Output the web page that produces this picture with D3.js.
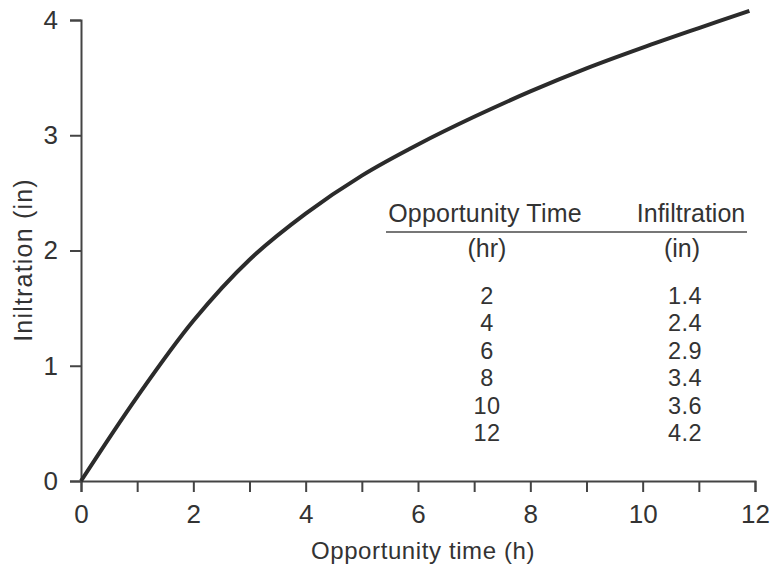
<!DOCTYPE html>
<html><head><meta charset="utf-8">
<script src="https://cdn.jsdelivr.net/npm/d3@7"></script>
<style>body{margin:0;background:#fff}svg{display:block}text{font-family:"Liberation Sans",Arial,sans-serif;fill:#333}</style>
</head><body>
<svg id="c" width="773" height="564"></svg>
<script>
// curve
const hours = [0, 1, 2, 3, 4, 5, 6, 7, 8, 9, 10, 11, 11.9];
const infil = [0, 0.73, 1.39, 1.92, 2.32, 2.65, 2.92, 3.16, 3.38, 3.58, 3.76, 3.93, 4.08];
// table
const tableTimes = ["2", "4", "6", "8", "10", "12"];
const tableInfil = ["1.4", "2.4", "2.9", "3.4", "3.6", "4.2"];
const xTicks = [0,1,2,3,4,5,6,7,8,9,10,11,12];
const yTicks = [0,1,2,3,4];

const svg = d3.select("#c");
const x = d3.scaleLinear().domain([0,12]).range([81,755]);
const y = d3.scaleLinear().domain([0,4]).range([481,20]);

const ax = svg.append("g").attr("transform","translate(0,481)")
  .call(d3.axisBottom(x).tickValues(xTicks).tickSize(11).tickPadding(13)
    .tickFormat(d => d % 2 === 0 ? d : ""));
const ay = svg.append("g").attr("transform","translate(81,0)")
  .call(d3.axisLeft(y).tickValues(yTicks).tickSize(11).tickPadding(12).tickFormat(d3.format("d")));
[ax, ay].forEach(g => {
  g.selectAll("path,line").attr("stroke","#444").attr("stroke-width",2);
  g.selectAll("text").attr("font-size",26).attr("fill","#333")
   .attr("font-family","'Liberation Sans',Arial,sans-serif");
});

const line = d3.line().x((d,i)=>x(hours[i])).y(d=>y(d)).curve(d3.curveCatmullRom.alpha(0.5));
svg.append("path").attr("d", line(infil)).attr("fill","none")
  .attr("stroke","#2b2b2b").attr("stroke-width",4).attr("stroke-linecap","butt");

svg.append("text").attr("x",423).attr("y",559).attr("text-anchor","middle")
  .attr("font-size",24).attr("letter-spacing",0.6).text("Opportunity time (h)");
svg.append("text").attr("transform","translate(32,260) rotate(-90)").attr("text-anchor","middle")
  .attr("font-size",25).attr("letter-spacing",1.2).text("Iniltration (in)");

// table
const c1 = 487, c2 = 685;
svg.append("text").attr("x",485).attr("y",222).attr("text-anchor","middle").attr("font-size",25).attr("letter-spacing",0.2).text("Opportunity Time");
svg.append("text").attr("x",691).attr("y",222).attr("text-anchor","middle").attr("font-size",25).text("Infiltration");
svg.append("line").attr("x1",386).attr("x2",747).attr("y1",232).attr("y2",232).attr("stroke","#777").attr("stroke-width",2);
svg.append("text").attr("x",c1).attr("y",257).attr("text-anchor","middle").attr("font-size",25).text("(hr)");
svg.append("text").attr("x",682).attr("y",257).attr("text-anchor","middle").attr("font-size",25).text("(in)");
const rows = d3.range(tableTimes.length);
const ry = d3.scaleLinear().domain([0,5]).range([304,441]);
svg.selectAll(".t1").data(rows).join("text").attr("x",c1).attr("y",i=>ry(i))
  .attr("text-anchor","middle").attr("font-size",23.5).attr("letter-spacing",0.5).text(i=>tableTimes[i]);
svg.selectAll(".t2").data(rows).join("text").attr("x",c2).attr("y",i=>ry(i))
  .attr("text-anchor","middle").attr("font-size",23.5).attr("letter-spacing",0.5).text(i=>tableInfil[i]);
</script>
</body></html>
